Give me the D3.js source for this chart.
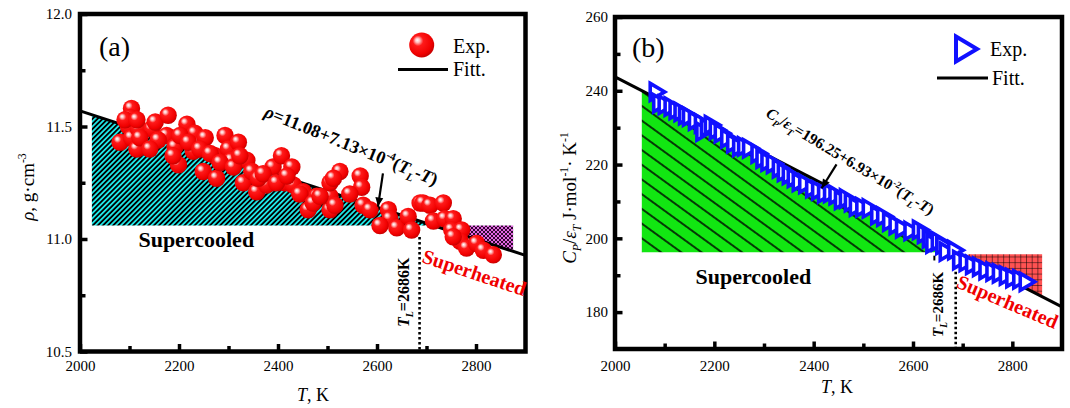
<!DOCTYPE html>
<html><head><meta charset="utf-8">
<script src="https://cdn.jsdelivr.net/npm/d3@7"></script>
<style>
body{margin:0;background:#fff;}
svg{display:block;font-family:"Liberation Serif","Times New Roman",serif;}
</style></head><body>
<svg id="c" width="1070" height="408"></svg>
<script>
// ---------------- DATA ----------------
const tempA = [2081,2104,2101,2098,2104,2118,2115,2145,2152,2178,2175,2192,2199,2216,2212,2232,2242,2253,2229,2249,
  2276,2273,2293,2300,2320,2306,2337,2330,2347,2357,2377,2390,2407,2428,2414,2431,2451,2461,2478,2505,2505,2505,
  2091,2115,2121,2158,2141,2202,2219,2188,2242,2263,2283,2310,2323,2360,2370,2397,2418,2444,2471,2485,
  2515,2525,2566,2569,2545,2572,2512,2586,2623,2626,2606,2640,2663,2670,2687,2693,2707,2714,2734,2737,2754,2751,
  2771,2768,2781,2801,2815,2835,2754];
const rhoA = [11.43,11.58,11.54,11.50,11.45,11.49,11.40,11.49,11.52,11.55,11.46,11.41,11.33,11.51,11.45,11.47,11.42,11.45,11.39,11.30,
  11.27,11.37,11.46,11.40,11.43,11.35,11.35,11.25,11.30,11.21,11.24,11.32,11.37,11.32,11.25,11.24,11.21,11.13,11.19,11.13,11.19,11.25,
  11.53,11.53,11.45,11.44,11.40,11.46,11.43,11.37,11.40,11.38,11.34,11.32,11.37,11.27,11.29,11.25,11.28,11.20,11.16,11.19,
  11.15,11.30,11.28,11.23,11.20,11.15,11.27,11.13,11.13,11.09,11.06,11.05,11.10,11.04,11.16,11.16,11.15,11.08,11.16,11.09,11.09,11.04,
  11.04,10.99,10.96,10.98,10.95,10.93,11.01];

const tempB = [2084,2091,2102,2114,2124,2134,2143,2151,2163,2175,2178,2187,2195,2205,2215,2228,2240,2252,2262,2272,
  2289,2299,2309,2320,2332,2342,2352,2362,2372,2385,2399,2411,2423,2435,2446,2457,2467,2477,2487,2500,
  2513,2530,2542,2554,2567,2580,2597,2614,2624,2634,2641,2652,2661,2668,2685,2695,2708,2721,2735,2748,
  2762,2775,2789,2802,2816,2829];
const cpB = [239.7,236.6,236.2,235.7,234.8,234.3,233.4,233.0,231.9,231.2,228.9,230.0,230.7,229.4,228.5,227.1,225.8,224.8,224.9,224.4,
  223.0,221.6,220.8,220.2,219.0,218.0,217.2,216.4,215.3,214.8,213.6,213.0,212.2,212.3,211.7,210.4,210.8,209.8,208.6,208.4,
  208.1,206.3,205.9,204.5,203.6,202.7,202.0,202.3,201.2,200.0,198.6,199.2,198.2,196.4,196.8,194.1,193.6,192.8,192.3,191.4,
  191.0,190.5,189.9,189.2,188.9,188.2];

const xDomain = [2000, 2900];
const xMajor = [2000, 2200, 2400, 2600, 2800];
const xMinor = [2100, 2300, 2500, 2700];
const yDomainA = [10.5, 12.0];
const yMajorA = [10.5, 11.0, 11.5, 12.0];
const yMinorA = [10.75, 11.25, 11.75];
const yDomainB = [170, 260];
const yMajorB = [180, 200, 220, 240, 260];
const yMinorB = [190, 210, 230, 250];

const TL = 2686;
const fitCoefA = [11.08, 7.13e-4];
const fitCoefB = [196.25, 6.93e-2];
// shaded regions [T start, (T end), level]
const coolA = [2024, 11.06];
const heatA = [2784, 2875, 11.06];
const coolB = [2054, 196.25];
const heatB = [2711, 2860, 195.7];

// ---------------- SETUP ----------------
const svg = d3.select('#c');
svg.append('rect').attr('width',1070).attr('height',408).attr('fill','#fff');
const defs = svg.append('defs');

const rg = defs.append('radialGradient').attr('id','sph')
  .attr('cx','0.42').attr('cy','0.4').attr('r','0.62').attr('fx','0.32').attr('fy','0.3');
[['0%','#ffffff'],['14%','#ffc0c0'],['34%','#ff1a1a'],['80%','#f00000'],['100%','#c40000']]
  .forEach(s=>rg.append('stop').attr('offset',s[0]).attr('stop-color',s[1]));

function linePattern(id, bg, spacing, angle, w){
  const p = defs.append('pattern').attr('id',id).attr('patternUnits','userSpaceOnUse')
    .attr('width',40).attr('height',spacing).attr('patternTransform',`rotate(${angle})`);
  p.append('rect').attr('width',40).attr('height',spacing).attr('fill',bg);
  p.append('line').attr('x1',0).attr('x2',40).attr('y1',spacing/2).attr('y2',spacing/2)
    .attr('stroke','#000').attr('stroke-width',w);
}
linePattern('hatchCyan', '#1ee6e6', 3.6, -45, 1.8);
linePattern('hatchGreen', '#12e612', 11.9, 36, 1.6);
(function(){
  const p = defs.append('pattern').attr('id','crossMag').attr('patternUnits','userSpaceOnUse')
    .attr('width',4).attr('height',4);
  p.append('rect').attr('width',4).attr('height',4).attr('fill','#e266e2');
  p.append('path').attr('d','M0,0L4,4M4,0L0,4').attr('stroke','#1a001a').attr('stroke-width',0.9);
})();
(function(){
  const p = defs.append('pattern').attr('id','gridRed').attr('patternUnits','userSpaceOnUse')
    .attr('width',5.7).attr('height',5.7).attr('x',0).attr('y',0);
  p.append('rect').attr('width',5.7).attr('height',5.7).attr('fill','#ff5252');
  p.append('path').attr('d','M0,0H5.7M0,0V5.7').attr('stroke','#000').attr('stroke-width',1);
})();

const FONT = '"Liberation Serif","Times New Roman",serif';

function rich(g, x, y, parts, fs, opts={}){
  const t = g.append('text').attr('x',x).attr('y',y).attr('font-size',fs)
    .attr('font-family',FONT);
  if (opts.weight) t.attr('font-weight',opts.weight);
  if (opts.anchor) t.attr('text-anchor',opts.anchor);
  if (opts.fill) t.attr('fill',opts.fill);
  if (opts.rotate!==undefined) t.attr('transform',`rotate(${opts.rotate},${x},${y})`);
  let shift = 0;
  parts.forEach(p=>{
    const target = p.sup ? -0.42*fs : (p.sub ? 0.28*fs : 0);
    const ts = t.append('tspan').text(p.t);
    if (target-shift !== 0) ts.attr('dy', target-shift);
    shift = target;
    if (p.sup || p.sub) ts.attr('font-size', fs*0.62);
    if (p.it) ts.attr('font-style','italic');
  });
  return t;
}

function axes(g, x, y, yMajor, yMinor, yFmt, padX, padY){
  const y0 = y.range()[0], x0 = x.range()[0];
  const style = sel => {
    sel.select('.domain').remove();
    sel.selectAll('.tick line').attr('stroke','#000').attr('stroke-width',3.5);
    sel.selectAll('text').attr('font-family',FONT).attr('font-size',15).attr('fill','#000');
    sel.attr('font-family',FONT).attr('font-size',15);
  };
  g.append('g').attr('transform',`translate(0,${y0})`)
    .call(d3.axisBottom(x).tickValues(xMajor).tickSize(-7.5).tickPadding(padX).tickFormat(d3.format('d'))).call(style);
  g.append('g').attr('transform',`translate(0,${y0})`)
    .call(d3.axisBottom(x).tickValues(xMinor).tickSize(-5.5).tickFormat('')).call(style);
  g.append('g').attr('transform',`translate(${x0},0)`)
    .call(d3.axisLeft(y).tickValues(yMajor).tickSize(-7.5).tickPadding(padY).tickFormat(yFmt)).call(style);
  g.append('g').attr('transform',`translate(${x0},0)`)
    .call(d3.axisLeft(y).tickValues(yMinor).tickSize(-5.5).tickFormat('')).call(style);
  const [xa,xb] = x.range(), [ya,yb] = y.range();
  g.append('rect').attr('x',xa).attr('y',yb).attr('width',xb-xa).attr('height',ya-yb)
    .attr('fill','none').attr('stroke','#000').attr('stroke-width',4.5);
}

function arrow(g, x1, y1, x2, y2){
  g.append('line').attr('x1',x1).attr('y1',y1).attr('x2',x2).attr('y2',y2)
    .attr('stroke','#000').attr('stroke-width',2.2);
  const ang = Math.atan2(y2-y1, x2-x1), L=9, W=4;
  const bx = x2 - L*Math.cos(ang), by = y2 - L*Math.sin(ang);
  const px = -Math.sin(ang)*W, py = Math.cos(ang)*W;
  g.append('path').attr('d',`M${x2},${y2}L${bx+px},${by+py}L${bx-px},${by-py}Z`).attr('fill','#000');
}

// ---------------- PANEL A ----------------
{
  const g = svg.append('g');
  const x = d3.scaleLinear().domain(xDomain).range([80, 525.5]);
  const y = d3.scaleLinear().domain(yDomainA).range([351.5, 14]);
  const fit = T => fitCoefA[0] + fitCoefA[1]*(TL - T);
  const line = d3.line().x(d=>x(d[0])).y(d=>y(d[1]));
  const tEnd = TL + (fitCoefA[0]-coolA[1])/fitCoefA[1];
  g.append('path').attr('d', line([[coolA[0],fit(coolA[0])],[tEnd,coolA[1]],[coolA[0],coolA[1]]])+'Z')
    .attr('fill','url(#hatchCyan)');
  g.append('path').attr('d', line([[heatA[0],heatA[2]],[heatA[1],heatA[2]],[heatA[1],fit(heatA[1])],[heatA[0],fit(heatA[0])]])+'Z')
    .attr('fill','url(#crossMag)');
  g.append('path').attr('d', line(xDomain.map(T=>[T,fit(T)]))).attr('stroke','#000').attr('stroke-width',3).attr('fill','none');
  g.append('line').attr('x1',x(TL)).attr('x2',x(TL)).attr('y1',y(11.009)).attr('y2',y(10.5))
    .attr('stroke','#000').attr('stroke-width',2.6).attr('stroke-dasharray','2.6,2.4');
  g.append('g').selectAll('circle').data(tempA.map((t,i)=>[t,rhoA[i]])).join('circle')
    .attr('cx',d=>x(d[0])).attr('cy',d=>y(d[1])).attr('r',8.7).attr('fill','url(#sph)');
  axes(g, x, y, yMajorA, yMinorA, d3.format('.1f'), 9, 8);
  arrow(g, x(2612), y(11.292), x(2602), y(11.144));
  rich(g, x(2370), y(11.545), [{t:'ρ',it:1},{t:'=11.08+7.13×10'},{t:'-4',sup:1},{t:'('},{t:'T',it:1},{t:'L',sub:1,it:1},{t:'-'},{t:'T',it:1},{t:')'}],
    18, {weight:'bold', rotate:22});
  rich(g, x(2664), y(10.609), [{t:'T',it:1},{t:'L',sub:1,it:1},{t:'=2686K'}], 16, {weight:'bold', rotate:-90});
  g.append('text').attr('x',x(2118)).attr('y',y(10.966)).attr('font-size',22).attr('font-weight','bold').text('Supercooled');
  g.append('text').attr('x',x(2689)).attr('y',y(10.898)).attr('font-size',20).attr('font-weight','bold')
    .attr('fill','#f00000').attr('transform',`rotate(18.5,${x(2689)},${y(10.898)})`).text('Superheated');
  g.append('text').attr('x',99).attr('y',56).attr('font-size',28).text('(a)');
  g.append('circle').attr('cx',421.7).attr('cy',45).attr('r',12.5).attr('fill','url(#sph)');
  g.append('text').attr('x',453).attr('y',52.5).attr('font-size',20).text('Exp.');
  g.append('line').attr('x1',398).attr('x2',448).attr('y1',69.5).attr('y2',69.5).attr('stroke','#000').attr('stroke-width',3);
  g.append('text').attr('x',453).attr('y',76).attr('font-size',20).text('Fitt.');
  rich(g, 34, 187, [{t:'ρ',it:1},{t:', g·cm'},{t:'-3',sup:1}], 19, {anchor:'middle', rotate:-90});
  rich(g, 313, 401, [{t:'T',it:1},{t:', K'}], 18, {anchor:'middle'});
}

// ---------------- PANEL B ----------------
{
  const g = svg.append('g');
  const x = d3.scaleLinear().domain(xDomain).range([615, 1062]);
  const y = d3.scaleLinear().domain(yDomainB).range([349, 17]);
  const fit = T => fitCoefB[0] + fitCoefB[1]*(TL - T);
  const line = d3.line().x(d=>x(d[0])).y(d=>y(d[1]));
  g.append('path').attr('d', line([[coolB[0],fit(coolB[0])],[TL,coolB[1]],[coolB[0],coolB[1]]])+'Z')
    .attr('fill','url(#hatchGreen)');
  g.append('path').attr('d', line([[heatB[0],heatB[2]],[heatB[1],heatB[2]],[heatB[1],fit(heatB[1])],[heatB[0],fit(heatB[0])]])+'Z')
    .attr('fill','url(#gridRed)');
  g.append('path').attr('d', line(xDomain.map(T=>[T,fit(T)]))).attr('stroke','#000').attr('stroke-width',3).attr('fill','none');
  g.append('line').attr('x1',x(TL)).attr('x2',x(TL)).attr('y1',y(190.96)).attr('y2',y(170))
    .attr('stroke','#000').attr('stroke-width',2.6).attr('stroke-dasharray','2.6,2.4');
  g.append('line').attr('x1',x(2643)).attr('x2',x(2643)).attr('y1',y(195.3)).attr('y2',y(194.0))
    .attr('stroke','#000').attr('stroke-width',2);
  g.append('g').selectAll('path').data(tempB.map((t,i)=>[t,cpB[i]])).join('path')
    .attr('transform',d=>`translate(${x(d[0])},${y(d[1])})`)
    .attr('d','M-6.5,-8.5L8,0L-6.5,8.5Z').attr('fill','#fff').attr('stroke','#1010ff').attr('stroke-width',3.6)
    .attr('stroke-linejoin','miter');
  axes(g, x, y, yMajorB, yMinorB, d3.format('d'), 11, 7);
  arrow(g, x(2446), y(220.07), x(2416), y(213.57));
  rich(g, x(2302), y(233.16), [{t:'C',it:1},{t:'P',sub:1,it:1},{t:'/'},{t:'ε',it:1},{t:'T',sub:1,it:1},{t:'=196.25+6.93×10'},{t:'-2',sup:1},{t:'('},{t:'T',it:1},{t:'L',sub:1,it:1},{t:'-'},{t:'T',it:1},{t:')'}],
    15.5, {weight:'bold', rotate:31});
  rich(g, x(2660), y(173.25), [{t:'T',it:1},{t:'L',sub:1,it:1},{t:'=2686K'}], 15, {weight:'bold', rotate:-90});
  g.append('text').attr('x',x(2162)).attr('y',y(187.62)).attr('font-size',22).attr('font-weight','bold').text('Supercooled');
  g.append('text').attr('x',x(2685)).attr('y',y(186.81)).attr('font-size',20).attr('font-weight','bold')
    .attr('fill','#f00000').attr('transform',`rotate(23,${x(2685)},${y(186.81)})`).text('Superheated');
  g.append('text').attr('x',632).attr('y',57).attr('font-size',28).text('(b)');
  g.append('path').attr('transform','translate(966,49)').attr('d','M-10,-12.5L11,0L-10,12.5Z')
    .attr('fill','#fff').attr('stroke','#1010ff').attr('stroke-width',4);
  g.append('text').attr('x',990).attr('y',56).attr('font-size',20).text('Exp.');
  g.append('line').attr('x1',937).attr('x2',988).attr('y1',78).attr('y2',78).attr('stroke','#000').attr('stroke-width',3);
  g.append('text').attr('x',992).attr('y',85).attr('font-size',20).text('Fitt.');
  rich(g, 576, 198, [{t:'C',it:1},{t:'P',sub:1,it:1},{t:'/'},{t:'ε',it:1},{t:'T',sub:1,it:1},{t:' J·mol'},{t:'-1',sup:1},{t:'·  K'},{t:'-1',sup:1}], 19, {anchor:'middle', rotate:-90});
  rich(g, 837, 393, [{t:'T',it:1},{t:', K'}], 18, {anchor:'middle'});
}
</script></body></html>
